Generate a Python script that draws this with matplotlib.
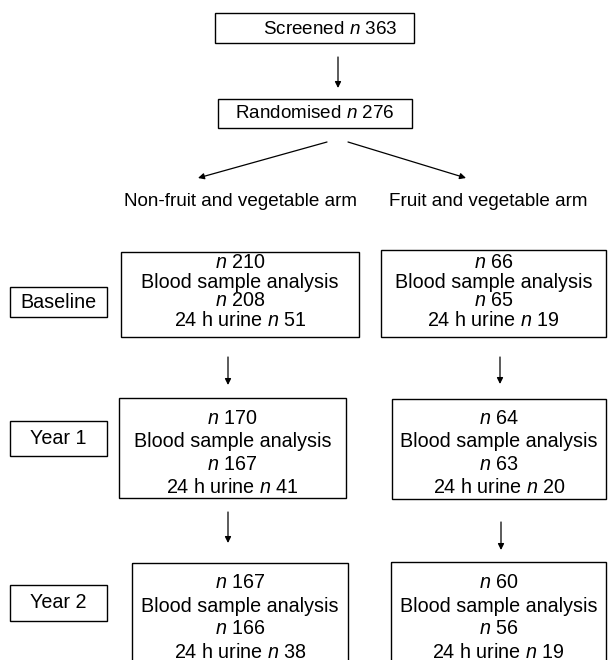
import matplotlib
matplotlib.use("Agg")
import matplotlib.pyplot as plt
from matplotlib.patches import Rectangle

plt.rcParams["font.family"] = ["Liberation Sans", "DejaVu Sans"]
plt.rcParams["mathtext.fontset"] = "custom"
plt.rcParams["mathtext.rm"] = "Liberation Sans"
plt.rcParams["mathtext.it"] = "Liberation Sans:italic"

# ─── Datos ────────────────────────────────────────────────────────────────
screened_n   = 363
randomised_n = 276
arms         = ["Non-fruit and vegetable arm", "Fruit and vegetable arm"]
stages       = ["Baseline", "Year 1", "Year 2"]
n_total      = [[210, 170, 167], [66, 64, 60]]
n_blood      = [[208, 167, 166], [65, 63, 56]]
n_urine      = [[51, 41, 38], [19, 20, 19]]

# ─── Layout (píxeles) ─────────────────────────────────────────────────────
FS_TOP = 13.6
FS_BOX = 14.2
fig = plt.figure(figsize=(6.08, 6.6), dpi=100)
ax = fig.add_axes([0, 0, 1, 1])
ax.set_xlim(0, 608)
ax.set_ylim(660, 0)
ax.axis("off")


def caja(x0, y0, x1, y1):
    ax.add_patch(Rectangle((x0, y0), x1 - x0, y1 - y0, fill=False,
                           edgecolor="black", lw=1.0, clip_on=False))


def flecha(x0, y0, x1, y1):
    ax.annotate("", xy=(x1, y1), xytext=(x0, y0),
                arrowprops=dict(arrowstyle="-|>", color="black", lw=0.9,
                                mutation_scale=9, shrinkA=0, shrinkB=0))


# Screened / randomised
caja(215, 13, 414, 43)
ax.text(330, 29, f"Screened $\\it{{n}}$ {screened_n}", ha="center", va="center", fontsize=FS_TOP)
flecha(338, 57, 338, 88)
caja(218, 99, 412, 128)
ax.text(315, 114, f"Randomised $\\it{{n}}$ {randomised_n}", ha="center", va="center", fontsize=FS_TOP)

flecha(327, 142, 198, 178)
flecha(348, 142, 466, 178)
ax.text(240, 202, arms[0], ha="center", va="center", fontsize=FS_TOP)
ax.text(488, 202, arms[1], ha="center", va="center", fontsize=FS_TOP)

# Cajas de etapas
etq_box = [(287, 317), (421, 456), (585, 621)]
arm_box = [
    [(121, 252, 359, 337), (119, 398, 346, 498), (132, 563, 348, 680)],
    [(381, 250, 606, 337), (392, 399, 606, 499), (391, 562, 606, 680)],
]
text_y0 = [263, 419, 583]
gap     = [19.0, 22.7, 23.0]
flechas = [[(228, 357, 385), (228, 512, 543)], [(500, 357, 384), (501, 522, 550)]]

for i, st in enumerate(stages):
    y0, y1 = etq_box[i]
    caja(10, y0, 107, y1)
    ax.text(58.5, (y0 + y1) / 2, st, ha="center", va="center", fontsize=FS_BOX)

for a in range(2):
    for i in range(3):
        x0, y0, x1, y1 = arm_box[a][i]
        caja(x0, y0, x1, y1)
        cx = (x0 + x1) / 2
        lineas = [f"$\\it{{n}}$ {n_total[a][i]}",
                  "Blood sample analysis",
                  f"$\\it{{n}}$ {n_blood[a][i]}",
                  f"24 h urine $\\it{{n}}$ {n_urine[a][i]}"]
        for k, l in enumerate(lineas):
            ax.text(cx, text_y0[i] + k * gap[i], l, ha="center", va="center",
                    fontsize=FS_BOX)
    for (x, ya, yb) in flechas[a]:
        flecha(x, ya, x, yb)

fig.savefig("out.png", dpi=100, facecolor="white")
